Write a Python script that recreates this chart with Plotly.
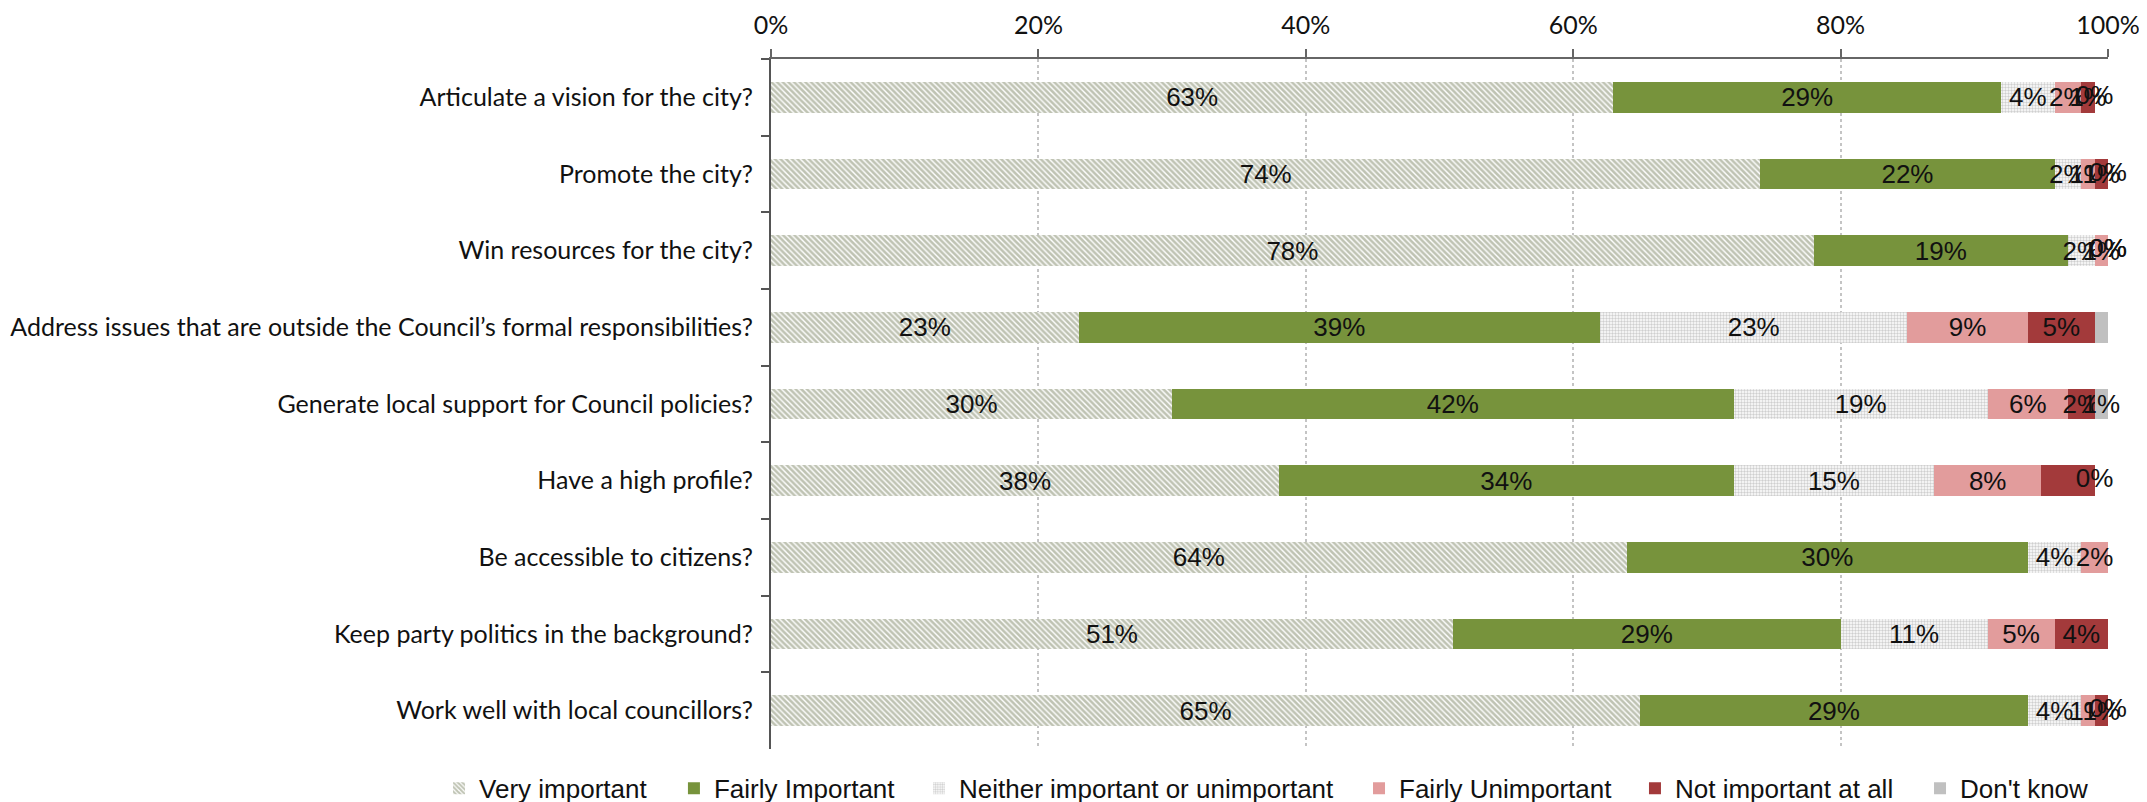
import plotly.graph_objects as go

categories = [
    "Articulate a vision for the city?",
    "Promote the city?",
    "Win resources for the city?",
    "Address issues that are outside the Council\u2019s formal responsibilities?",
    "Generate local support for Council policies?",
    "Have a high profile?",
    "Be accessible to citizens?",
    "Keep party politics in the background?",
    "Work well with local councillors?",
]

series_names = ["Very important", "Fairly Important", "Neither important or unimportant",
                "Fairly Unimportant", "Not important at all", "Don't know"]

very_important = [63, 74, 78, 23, 30, 38, 64, 51, 65]
fairly_important = [29, 22, 19, 39, 42, 34, 30, 29, 29]
neither = [4, 2, 2, 23, 19, 15, 4, 11, 4]
fairly_unimportant = [2, 1, 1, 9, 6, 8, 2, 5, 1]
not_important = [1, 1, 0, 5, 2, 4, 0, 4, 1]
dont_know = [0, 0, 0, 2, 1, 0, 0, 0, 0]

# which data labels appear in the source chart
show_not_important = [True, True, True, True, True, False, False, True, True]
show_dont_know = [True, True, True, True, True, True, False, False, True]

values = [very_important, fairly_important, neither, fairly_unimportant, not_important, dont_know]
shows = [None, None, None, None, show_not_important, show_dont_know]

styles = [
    dict(color="#ffffff", pattern=dict(shape="\\", fgcolor="#7f8868", bgcolor="#ffffff", size=4, solidity=0.65)),
    dict(color="#77933c"),
    dict(color="#ffffff", pattern=dict(shape=".", fgcolor="#a0a0a0", bgcolor="#ffffff", size=3, solidity=0.5)),
    dict(color="#e29c9c"),
    dict(color="#a33a3b"),
    dict(color="#c0c0c0"),
]

# legend entry positions (paper x), one legend per entry to mimic the source spacing
legend_x = [-0.2483, -0.0726, 0.1107, 0.4398, 0.6462, 0.8594]

LABEL_FONT = dict(family="Liberation Sans, Arial", size=26, color="#111111")
LEGEND_FONT = dict(family="Liberation Sans, Arial", size=26, color="#111111")

fig = go.Figure()
zero_x, zero_y, zero_t = [], [], []
cum = [0] * len(categories)
for k, (name, vals, show, st) in enumerate(zip(series_names, values, shows, styles)):
    texts = []
    for i, v in enumerate(vals):
        visible = show is None or show[i]
        if visible and v == 0:
            zero_x.append(cum[i] / 100)
            zero_y.append(categories[i])
            zero_t.append(f"{v}%")
        texts.append(f"{v}%" if visible and v > 0 else "")
        cum[i] += v
    fig.add_trace(go.Bar(
        y=categories, x=[v / 100 for v in vals], name=name, orientation="h",
        marker=dict(line=dict(width=0), **st),
        text=texts, textposition="inside", insidetextanchor="middle", textangle=0,
        textfont=LABEL_FONT,
        cliponaxis=False, hoverinfo="skip",
        legend="legend" if k == 0 else f"legend{k + 1}",
    ))

# labels of zero-width segments (bars of width 0 carry no text in plotly)
fig.add_trace(go.Scatter(
    x=zero_x, y=zero_y, text=zero_t, mode="text", textposition="middle center",
    textfont=LABEL_FONT, showlegend=False, cliponaxis=False, hoverinfo="skip",
))

legends = {}
for k, lx in enumerate(legend_x):
    key = "legend" if k == 0 else f"legend{k + 1}"
    legends[key] = dict(orientation="h", x=lx, xanchor="left", y=-0.057, yanchor="middle",
                        font=LEGEND_FONT, itemwidth=30, bgcolor="rgba(0,0,0,0)")

fig.update_layout(
    barmode="stack", bargap=0.6,
    width=2147, height=802,
    margin=dict(l=763, r=47, t=51, b=61, autoexpand=False),
    plot_bgcolor="white", paper_bgcolor="white",
    uniformtext=dict(minsize=26, mode="show"),
    showlegend=True,
    **legends,
)
fig.update_xaxes(
    side="top", range=[0, 1], dtick=0.2, tickformat=".0%",
    showgrid=True, gridcolor="#c4c4c4", griddash="dot", gridwidth=1.5,
    showline=True, linecolor="#666666", linewidth=2,
    ticks="outside", ticklen=8, tickcolor="#666666", tickwidth=2,
    tickfont=dict(family="Lato, Carlito, sans-serif", size=25, color="#111111"),
    ticklabelstandoff=5, automargin=False,
    zeroline=False, fixedrange=True,
)
fig.update_yaxes(
    autorange="reversed", tickson="boundaries",
    showline=True, linecolor="#555555", linewidth=2,
    ticks="outside", ticklen=8, tickcolor="#555555", tickwidth=2,
    tickfont=dict(family="Lato, Carlito, sans-serif", size=25, color="#111111"),
    ticklabelstandoff=11, automargin=False,
)

fig.write_html("out.html")
